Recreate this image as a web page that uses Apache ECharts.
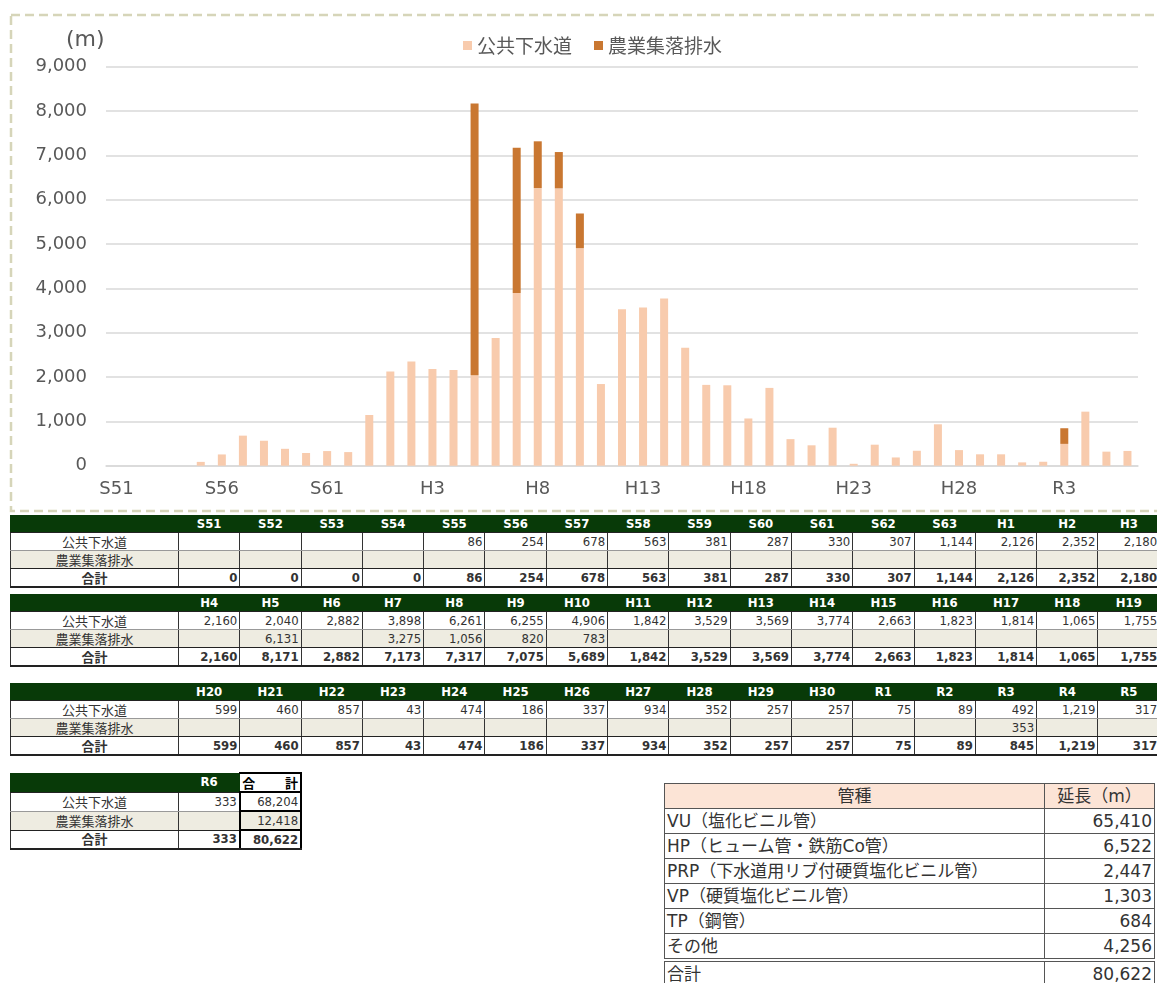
<!DOCTYPE html>
<html>
<head>
<meta charset="utf-8">
<script src="https://cdn.jsdelivr.net/npm/echarts@6/dist/echarts.min.js"></script>
<style>
html, body { margin: 0; padding: 0; background: #fff; overflow: hidden; width: 1157px; height: 983px; position: relative; }
#chart { position: absolute; left: 0; top: 0; width: 1157px; height: 515px; }
table { position: absolute; border-collapse: collapse; table-layout: fixed; font-family: "DejaVu Sans", "Noto Sans CJK JP", sans-serif; font-stretch: condensed; color: #333; }
.yr td { height: 17px; padding: 0 2px 0 0; font-size: 13px; line-height: 16px; text-align: right; white-space: nowrap; overflow: hidden;
  border-left: 1px solid #333; border-bottom: 1px solid #999; }
.yr tr.hd td { background: #083a08; color: #fff; font-weight: bold; font-size: 13px; text-align: center; border-left: 1px solid #083a08; border-bottom: 1px solid #222; padding: 0; }
.yr td.lb { text-align: center; font-size: 13px; padding: 0; font-family: "Noto Sans CJK JP", sans-serif; }
.yr tr.ag td { background: #eeece1; border-bottom: 1px solid #222; }
.yr tr.tt td { font-weight: bold; border-bottom: 2px solid #222; }
.yr td.sum { border: 2px solid #000; }
.yr tr.hd td.sum { background: #fff; color: #000; text-align: justify; text-align-last: justify; padding: 0 2px; font-family: "Noto Sans CJK JP", sans-serif; }
.pipe { font-stretch: normal; }
.pipe td { height: 24px; padding: 0 2px; font-size: 17px; line-height: 24px; border: 1px solid #555; white-space: nowrap; }
.pipe td.v { text-align: right; }
.pipe tr.hd td { background: #fce4d6; text-align: center; }
.pipe tr.tt td { border-top: 4px double #555; }
</style>
</head>
<body>
<div id="chart"></div>
<script>
// 年度
var years = [
  'S51', 'S52', 'S53', 'S54', 'S55', 'S56', 'S57', 'S58', 'S59', 'S60', 'S61', 'S62', 'S63',
  'H1', 'H2', 'H3', 'H4', 'H5', 'H6', 'H7', 'H8', 'H9', 'H10', 'H11', 'H12', 'H13', 'H14', 'H15',
  'H16', 'H17', 'H18', 'H19', 'H20', 'H21', 'H22', 'H23', 'H24', 'H25', 'H26', 'H27', 'H28', 'H29', 'H30',
  'R1', 'R2', 'R3', 'R4', 'R5', 'R6'
];

// 公共下水道 (m)
var publicSewer = [
  null, null, null, null, 86, 254, 678, 563, 381, 287, 330, 307, 1144,
  2126, 2352, 2180, 2160, 2040, 2882, 3898, 6261, 6255, 4906, 1842, 3529, 3569, 3774, 2663,
  1823, 1814, 1065, 1755, 599, 460, 857, 43, 474, 186, 337, 934, 352, 257, 257,
  75, 89, 492, 1219, 317, 333
];

// 農業集落排水 (m)
var ruralSewer = [
  null, null, null, null, null, null, null, null, null, null, null, null, null,
  null, null, null, null, 6131, null, 3275, 1056, 820, 783, null, null, null, null, null,
  null, null, null, null, null, null, null, null, null, null, null, null, null, null, null,
  null, null, 353, null, null, null
];

// 合計欄
var sumPublic = 68204;
var sumRural = 12418;
var sumAll = 80622;

// 管種別延長
var pipeTypes = [
  'VU（塩化ビニル管）',
  'HP（ヒューム管・鉄筋Co管）',
  'PRP（下水道用リブ付硬質塩化ビニル管）',
  'VP（硬質塩化ビニル管）',
  'TP（鋼管）',
  'その他'
];
var pipeLengths = [65410, 6522, 2447, 1303, 684, 4256];
var pipeTotal = 80622;

var yTicks = [0, 9000, 1000]; // min, max, interval

function fmt(v) {
  if (v === null || v === undefined) return '';
  return String(v).replace(/\B(?=(\d{3})+(?!\d))/g, ',');
}

// ---- chart ----
var chart = echarts.init(document.getElementById('chart'));
var fontLatin = '"DejaVu Sans", "Noto Sans CJK JP", sans-serif';

chart.setOption({
  animation: false,
  textStyle: { fontFamily: fontLatin },
  graphic: [
    {
      type: 'rect',
      silent: true,
      z: -1,
      shape: { x: 11, y: 15, width: 1175, height: 496 },
      style: { fill: null, stroke: '#d6d5b9', lineWidth: 2.5, lineDash: [9, 5] }
    },
    {
      type: 'text',
      left: 66,
      top: 29,
      style: { text: '(m)', font: '22px "DejaVu Sans"', fill: '#595959' }
    }
  ],
  legend: {
    left: 463,
    top: 36,
    padding: 0,
    icon: 'rect',
    itemWidth: 9,
    itemHeight: 9,
    itemGap: 22,
    textStyle: { fontSize: 19, color: '#595959', fontFamily: '"Noto Sans CJK JP", sans-serif' }
  },
  grid: { left: 106, top: 66.7, width: 1032, height: 399 },
  xAxis: {
    type: 'category',
    data: years,
    axisLine: { lineStyle: { color: '#d9d9d9', width: 1.5 } },
    axisTick: { show: false },
    axisLabel: { interval: 4, color: '#595959', fontSize: 18, margin: 15 }
  },
  yAxis: {
    type: 'value',
    min: yTicks[0],
    max: yTicks[1],
    interval: yTicks[2],
    axisLine: { show: false },
    axisTick: { show: false },
    axisLabel: { color: '#595959', fontSize: 18, margin: 19, formatter: fmt },
    splitLine: { lineStyle: { color: '#d9d9d9', width: 1.5 } }
  },
  series: [
    {
      name: '公共下水道',
      type: 'bar',
      stack: 'len',
      barWidth: 8,
      data: publicSewer,
      itemStyle: { color: '#f8cbad' }
    },
    {
      name: '農業集落排水',
      type: 'bar',
      stack: 'len',
      barWidth: 8,
      data: ruralSewer,
      itemStyle: { color: '#c97731' }
    }
  ]
});

// ---- 年度別テーブル ----
function yearTable(from, to, top, withSum) {
  var t = document.createElement('table');
  t.className = 'yr';
  t.style.left = '10px';
  t.style.top = top + 'px';
  var n = to - from;
  var cols = '<colgroup><col style="width:168px">';
  for (var i = 0; i < n + (withSum ? 1 : 0); i++) cols += '<col style="width:61.3px">';
  cols += '</colgroup>';
  t.style.width = (168 + 61.3 * (n + (withSum ? 1 : 0))) + 'px';

  var hd = '<tr class="hd"><td></td>';
  var r1 = '<tr><td class="lb">公共下水道</td>';
  var r2 = '<tr class="ag"><td class="lb">農業集落排水</td>';
  var r3 = '<tr class="tt"><td class="lb">合計</td>';
  for (var k = from; k < to; k++) {
    hd += '<td>' + years[k] + '</td>';
    r1 += '<td>' + fmt(publicSewer[k]) + '</td>';
    r2 += '<td>' + fmt(ruralSewer[k]) + '</td>';
    r3 += '<td>' + fmt((publicSewer[k] || 0) + (ruralSewer[k] || 0)) + '</td>';
  }
  if (withSum) {
    hd += '<td class="sum">合 計</td>';
    r1 += '<td class="sum">' + fmt(sumPublic) + '</td>';
    r2 += '<td class="sum">' + fmt(sumRural) + '</td>';
    r3 += '<td class="sum">' + fmt(sumAll) + '</td>';
  }
  t.innerHTML = cols + hd + '</tr>' + r1 + '</tr>' + r2 + '</tr>' + r3 + '</tr>';
  document.body.appendChild(t);
}

yearTable(0, 16, 515, false);
yearTable(16, 32, 594, false);
yearTable(32, 48, 683, false);
yearTable(48, 49, 772, true);

// ---- 管種テーブル ----
(function () {
  var t = document.createElement('table');
  t.className = 'pipe';
  t.style.left = '664px';
  t.style.top = '783px';
  t.style.width = '490px';
  var h = '<colgroup><col style="width:380px"><col style="width:110px"></colgroup>';
  h += '<tr class="hd"><td>管種</td><td>延長（m）</td></tr>';
  for (var i = 0; i < pipeTypes.length; i++) {
    h += '<tr><td>' + pipeTypes[i] + '</td><td class="v">' + fmt(pipeLengths[i]) + '</td></tr>';
  }
  h += '<tr class="tt"><td>合計</td><td class="v">' + fmt(pipeTotal) + '</td></tr>';
  t.innerHTML = h;
  document.body.appendChild(t);
})();
</script>
</body>
</html>
